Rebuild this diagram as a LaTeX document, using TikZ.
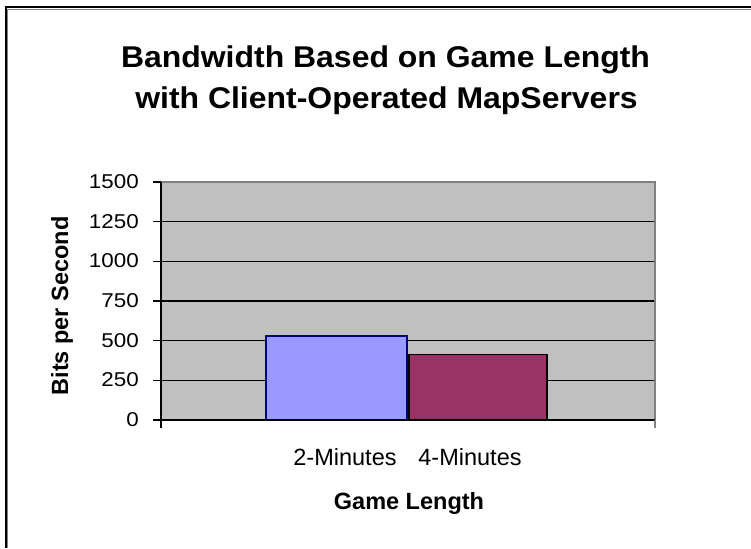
\documentclass[tikz,border=0pt]{standalone}
\usepackage{fontspec}
\setmainfont{Liberation Sans}
\definecolor{plotbg}{HTML}{C0C0C0}
\definecolor{barblue}{HTML}{9999FF}
\definecolor{barblueedge}{HTML}{000080}
\definecolor{barred}{HTML}{993366}
\definecolor{bordergray}{HTML}{808080}
\tikzset{
  titletext/.style={font=\fontsize{30}{36}\bfseries\selectfont, anchor=base, inner sep=0pt, xscale=1.065, transform shape},
  axistitle/.style={font=\fontsize{23.5}{28}\bfseries\selectfont, anchor=base, inner sep=0pt},
  ticklabel/.style={font=\fontsize{20}{24}\selectfont, anchor=base east, inner sep=0pt, xscale=1.12, transform shape},
  catlabel/.style={font=\fontsize{23.5}{28}\selectfont, anchor=base, inner sep=0pt},
  grid line/.style={black, line width=1.3pt},
  axis line/.style={black, line width=1.4pt},
}
\begin{document}
\begin{tikzpicture}[x=1pt,y=-1pt]
\useasboundingbox (0,0) rectangle (751,548);
\fill[white] (0,0) rectangle (751,548);
% outer frame
\draw[bordergray, line width=1pt] (7,9.8) -- (751,9.8);
\draw[bordergray, line width=1pt] (7.3,9.8) -- (7.3,548);
\draw[black, line width=2pt] (4.5,7.5) -- (751,7.5);
\draw[black, line width=2pt] (5.5,7.5) -- (5.5,548);
% title
\node[titletext] (t1) at (385.5,68) {Bandwidth Based on Game Length};
\node[titletext] (t2) at (386.5,109) {with Client-Operated MapServers};
% plot area
\fill[plotbg] (161,182) rectangle (655,420);
\foreach \v in {250,500,750,1000,1250} {
  \pgfmathsetmacro{\yy}{420-\v*0.1586667}
  \draw[grid line] (161,\yy) -- (655,\yy);
}
\draw[bordergray, line width=1.3pt] (161,182) -- (655,182) -- (655,420);
% bars
\draw[fill=barblue, draw=barblueedge, line width=1.3pt] (266,420) rectangle (407,336);
\draw[fill=barred, draw=black, line width=1.3pt] (409,420) rectangle (547,354.3);
% axes
\draw[axis line] (161,182) -- (161,428);
\draw[axis line] (161,420) -- (655,420);
\draw[bordergray, line width=1.4pt] (655,420) -- (655,428);
\foreach \v in {0,250,500,750,1000,1250,1500} {
  \pgfmathsetmacro{\yy}{420-\v*0.1586667}
  \draw[axis line] (153,\yy) -- (161,\yy);
  \node[ticklabel] (lab\v) at (139,\yy+6.5) {\v};
}
% axis titles
\node[axistitle, rotate=90] (ytitle) at (68,306) {Bits per Second};
\node[catlabel] (c1) at (345,465) {2-Minutes};
\node[catlabel] (c2) at (470,465) {4-Minutes};
\node[axistitle] (xtitle) at (409,509) {Game Length};
\end{tikzpicture}
\end{document}
